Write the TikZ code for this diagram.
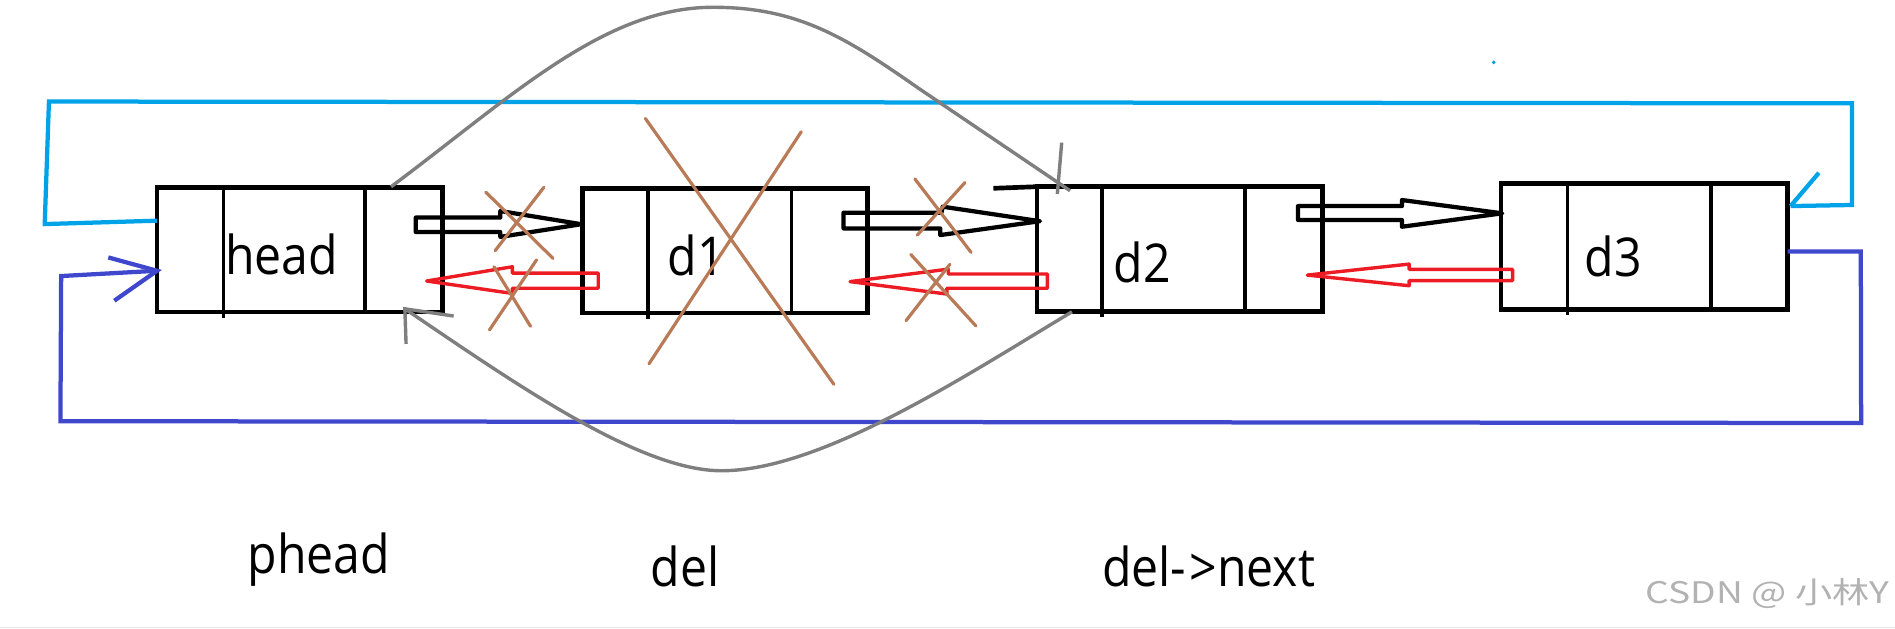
\documentclass[tikz,border=0pt]{standalone}
\usepackage{fontspec}
\newfontfamily\sketchfont[FakeStretch=0.9]{Open Sans}
\newfontfamily\cjkfont{Noto Sans CJK SC}
\usepackage{tikz}
\usetikzlibrary{
  % anchors with shifts
  calc,%
  positioning
}
\definecolor{paintred}{HTML}{ED1C24}
\definecolor{paintbrown}{HTML}{B97A57}
\definecolor{paintgray}{HTML}{7F7F7F}
\definecolor{paintblue}{HTML}{00A2E8}
\definecolor{paintindigo}{HTML}{3F48CC}
\tikzset{listbox/.style={draw, line width=1.1pt, minimum width=2.36cm,
    minimum height=1.03cm, inner sep=0pt, outer sep=0pt}}
\tikzset{cellbar/.style={line width=0.85pt}}
\tikzset{nextptr/.style={draw, line width=1pt, line join=round}}
\tikzset{prevptr/.style={draw=paintred, line width=0.8pt, line join=round}}
\tikzset{crossout/.style={draw=paintbrown, line width=0.75pt, line cap=round}}
\tikzset{relink/.style={draw=paintgray, line width=0.8pt}}
\tikzset{tailloop/.style={draw=paintblue, line width=1pt}}
\tikzset{headloop/.style={draw=paintindigo, line width=1pt}}
\tikzset{txt/.style={font=\sketchfont\fontsize{12.6}{14}\selectfont,
    inner sep=0pt, anchor=base}}
\tikzset{wmark/.style={font=\cjkfont\fontsize{7}{8}\selectfont, text=black!30,
    inner sep=0pt, anchor=base east}}

\begin{document}
\begin{tikzpicture}[x=0.01cm, y=-0.01cm]
  \useasboundingbox (0,0) rectangle (1568,520);
  \node[listbox] (head) at (248,206.5) {};
  \node[listbox] (d1) at (600,207.5) {};
  \node[listbox] (d2) at (976,206) {};
  \node[listbox, minimum width=2.37cm, minimum height=1.04cm] (d3) at (1360.5,203.8) {};
  \foreach \n/\a/\b in {head/55/172, d1/54/173, d2/54/172, d3/55/174}{
    \draw[cellbar] ([xshift=\a*0.01cm]\n.north west) -- ([xshift=\a*0.01cm, yshift=-0.05cm]\n.south west);
    \draw[cellbar] ([xshift=\b*0.01cm]\n.north west) -- ([xshift=\b*0.01cm]\n.south west);
  }
  \draw[line width=1.1pt] (822,155.8) -- (d2.north west);
  \node[txt] (headlbl) at (233,227.5) {head};
  \node[txt] (d1lbl) at (576,227.6) {d1};
  \node[txt] (d2lbl) at (945,234) {d2};
  \node[txt] (d3lbl) at (1335,229) {d3};
  \node[txt] (phead) at (264,474.4) {phead};
  \node[txt] (del) at (567,485.5) {del};
  \node[txt] (delnext) at (1000,485.5) {del-\kern0.06em>next};
  \node[wmark] (csdn) at (1564,499) {\scalebox{1.25}[1]{CSDN @ 小林Y}};
  \draw[tailloop] ([yshift=0.239cm]head.west) -- (37,185.4) -- (40.5,84) -- (1532.5,85.5) -- (1532.5,169.6) -- (1481.6,170.5) coordinate (tailend);
  \draw[tailloop] (tailend) -- (1505,143);
  \fill[paintblue] (1236,51.6) circle (1.6);
  \draw[headloop] ([yshift=-0.042cm]d3.east) -- (1539.7,208) -- (1540,350) -- (50,348.5) -- (50.6,228.4) -- ([yshift=-0.175cm]head.west) coordinate (headend);
  \draw[headloop] (89.6,213) -- (headend) -- (94.6,248.8);
  \draw[nextptr] (344,180) -- (414,180) -- (414,174.6) -- (481,185.5) -- (414,196) -- (414,192) -- (344,192) -- cycle;
  \draw[nextptr] (698,176) -- (779,176) -- (780,171) -- (860.5,183) -- (778,194.5) -- (778,189) -- (698,189) -- cycle;
  \draw[nextptr] (1074,170.5) -- (1160,170.5) -- (1160,165.5) -- (1243,176.5) -- (1160,187.6) -- (1160,182) -- (1074,182) -- cycle;
  \draw[prevptr] (353,232.5) -- (424,220.7) -- (424,226) -- (495,226) -- (495,238.5) -- (424,238.5) -- (424,242.8) -- cycle;
  \draw[prevptr] (703.4,233) -- (784.6,222.7) -- (784.6,226.7) -- (866.6,226.7) -- (866.6,238.5) -- (783.5,238.5) -- (783.5,243.3) -- cycle;
  \draw[prevptr] (1081.7,227.6) -- (1166,218.5) -- (1166,222.9) -- (1251.6,222.9) -- (1251.6,232.2) -- (1166,232.2) -- (1166,236.4) -- cycle;
  \draw[relink] (323.6,154.5) .. controls (424,79.5) and (500,6) .. (590,6) .. controls (660,6) and (700,31) .. (760,73) -- (885.4,157.8);
  \draw[relink] (878.5,118) -- (874.9,160.5);
  \draw[relink] (887,258) .. controls (800,310) and (680,389.5) .. (597,389.5) .. controls (530,389.5) and (430,320) .. (335,255.5);
  \draw[relink] (375.4,261.5) -- (335,255.5) -- (336,284.6);
  \draw[crossout] (534,98) -- (690,318);
  \draw[crossout] (663,109) -- (537,301);
  \draw[crossout] (402,159) -- (457.6,213.8);
  \draw[crossout] (450,155) -- (409.7,207.4);
  \draw[crossout] (444,215) -- (405,273);
  \draw[crossout] (408.7,220.7) -- (439,270);
  \draw[crossout] (757,148) -- (803.5,208.8);
  \draw[crossout] (798.5,151) -- (759,194.5);
  \draw[crossout] (753.6,210.5) -- (807.6,269.8);
  \draw[crossout] (786,218.7) -- (749.7,265.3);
  \draw[black!10, line width=0.3pt] (0,519.4) -- (1568,519.4);
\end{tikzpicture}
\end{document}
